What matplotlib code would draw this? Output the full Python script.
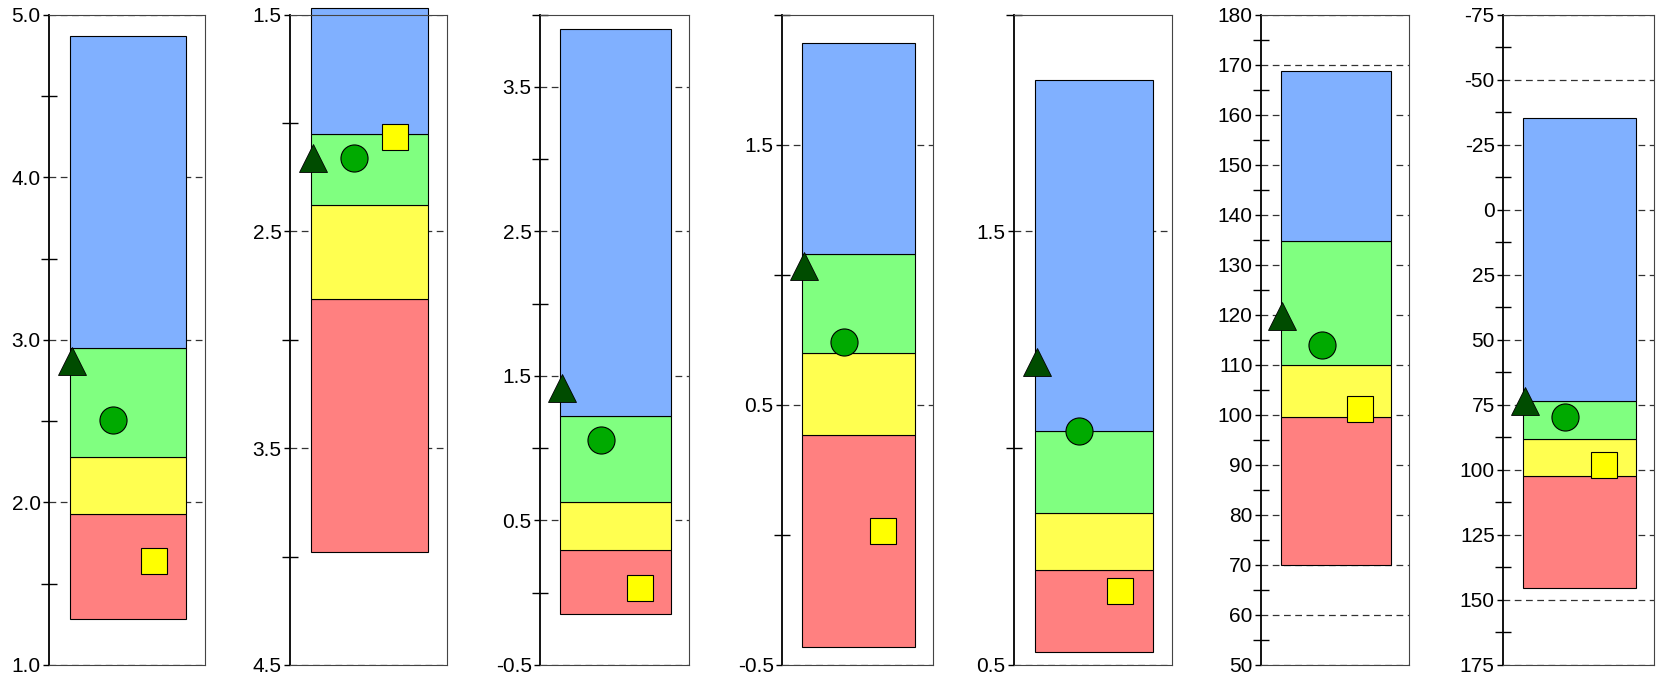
import matplotlib.pyplot as plt
from matplotlib.ticker import MultipleLocator, FormatStrFormatter

plt.rcParams['font.family'] = ['Liberation Sans', 'DejaVu Sans']

# axis setup for each of the 7 panels
y_low = [1.0, 1.5, -0.5, -0.5, 0.5, 50, -75]
y_high = [5.0, 4.5, 4.0, 2.0, 2.0, 180, 175]
inverted = [False, True, False, False, False, False, True]
major_step = [1, 1, 1, 1, 1, 10, 25]
major_offset = [0, 0.5, 0.5, 0.5, 0.5, 0, 0]
label_fmt = ['%.1f', '%.1f', '%.1f', '%.1f', '%.1f', '%d', '%d']

# qualitative band boundaries (red start -> blue end)
red_end = [1.28, 3.98, -0.15, -0.43, 0.53, 70.0, 145.3]
red_yellow = [1.93, 2.81, 0.295, 0.385, 0.72, 99.5, 102.5]
yellow_green = [2.28, 2.38, 0.625, 0.70, 0.85, 110.0, 88.0]
green_blue = [2.95, 2.05, 1.22, 1.08, 1.04, 134.8, 73.7]
blue_end = [4.87, 1.47, 3.90, 1.89, 1.85, 168.8, -35.2]

# markers
triangle_val = [2.87, 2.16, 1.42, 1.035, 1.20, 119.7, 73.7]
circle_val = [2.51, 2.16, 1.055, 0.74, 1.04, 114.0, 79.8]
square_val = [1.64, 2.065, 0.035, 0.015, 0.67, 101.2, 98.2]

band_colors = ['#ff8080', '#ffff50', '#80ff80', '#80b0ff']

# panel placement in pixels
ax_left_px = [49, 290, 540, 782, 1014, 1261, 1503]
ax_right_px = [205, 447, 689, 933, 1172, 1409, 1654]
W, H = 1658, 679
top_px, bottom_px = 14.7, 665

fig = plt.figure(figsize=(W / 100, H / 100), dpi=100)

bar_left, bar_right = 0.135, 0.88
bar_x = (bar_left + bar_right) / 2
bar_w = bar_right - bar_left

for i in range(7):
    ax = fig.add_axes([ax_left_px[i] / W, 1 - bottom_px / H,
                       (ax_right_px[i] - ax_left_px[i]) / W, (bottom_px - top_px) / H])
    ax.set_xlim(0, 1)
    if inverted[i]:
        ax.set_ylim(y_high[i], y_low[i])
    else:
        ax.set_ylim(y_low[i], y_high[i])

    edges = [red_end[i], red_yellow[i], yellow_green[i], green_blue[i], blue_end[i]]
    for k in range(4):
        ax.bar(bar_x, edges[k + 1] - edges[k], bottom=edges[k], width=bar_w,
               color=band_colors[k], edgecolor='black', linewidth=0.8,
               zorder=2, clip_on=False)

    ax.plot(bar_left + 0.01, triangle_val[i], marker='^', ms=19.5, color='#004c00',
            mec='black', mew=0.6, zorder=4, clip_on=False)
    ax.plot(0.41, circle_val[i], marker='o', ms=19.5, color='#00aa00',
            mec='black', mew=0.8, zorder=4, clip_on=False)
    ax.plot(0.67, square_val[i], marker='s', ms=19, color='#ffff00',
            mec='black', mew=0.8, zorder=4, clip_on=False)

    ax.yaxis.set_major_locator(MultipleLocator(major_step[i], offset=major_offset[i]))
    ax.yaxis.set_minor_locator(MultipleLocator(major_step[i] / 2))
    ax.yaxis.set_major_formatter(FormatStrFormatter(label_fmt[i]))
    ax.set_xticks([])
    ax.tick_params(axis='y', which='major', direction='out', length=4, width=1,
                   labelsize=15, pad=2)
    ax.tick_params(axis='y', which='minor', direction='inout', length=12, width=1)

    ax.set_axisbelow(True)
    ax.yaxis.grid(True, which='major', linestyle=(0, (5.4, 3.6)), color='#333333',
                  linewidth=0.9)

    ax.spines['left'].set_linewidth(1.3)
    ax.spines['left'].set_color('black')
    for s in ['top', 'right', 'bottom']:
        ax.spines[s].set_linewidth(0.8)
        ax.spines[s].set_color('#444444')

fig.savefig('out.png', dpi=100)
